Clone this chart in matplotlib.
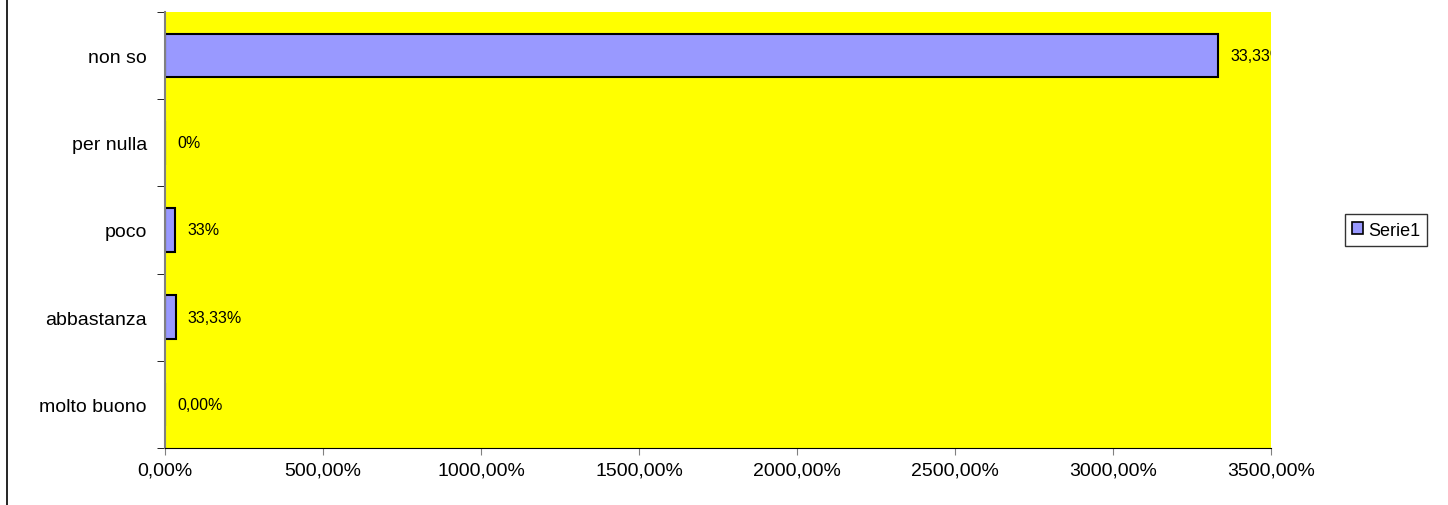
import matplotlib
matplotlib.use("Agg")
import matplotlib.pyplot as plt
from matplotlib.lines import Line2D
from matplotlib.patches import Patch

categories = ["molto buono", "abbastanza", "poco", "per nulla", "non so"]
values = [0.0, 33.33, 33.0, 0.0, 3333.0]
value_labels = ["0,00%", "33,33%", "33%", "0%", "33,33%"]
xticks = [0, 500, 1000, 1500, 2000, 2500, 3000, 3500]

plt.rcParams['font.family'] = ['Liberation Sans', 'DejaVu Sans']

fig = plt.figure(figsize=(14.48, 5.06), dpi=100)
ax = fig.add_axes([165 / 1448, 1 - 449 / 506, (1271 - 165) / 1448, (449 - 13) / 506])
ax.set_facecolor("#ffff00")

ypos = list(range(len(categories)))
ax.barh(ypos, values, height=0.5, color="#9999ff", edgecolor="black", linewidth=1.5)

for y, v, lab in zip(ypos, values, value_labels):
    ax.text(v + 38, y, lab, va="center", ha="left", fontsize=11.5, clip_on=True)

ax.set_xlim(0, 3500)
ax.set_ylim(-0.5, len(categories) - 0.5)
ax.set_xticks(xticks)
ax.set_xticklabels([f"{t},00%" for t in xticks], fontsize=14)
ax.set_yticks(ypos)
ax.set_yticklabels(categories, fontsize=14)
ax.set_yticks([i - 0.5 for i in range(len(categories) + 1)], minor=True)
ax.tick_params(axis="y", which="major", length=0, pad=13)
ax.tick_params(axis="y", which="minor", length=6, color="black", direction="out")
ax.tick_params(axis="x", length=5, color="gray", direction="out", pad=5)

for s in ["top", "right"]:
    ax.spines[s].set_visible(False)
ax.spines["left"].set_color("gray")
ax.spines["left"].set_linewidth(1.5)
ax.spines["bottom"].set_color("black")

handle = Patch(facecolor="#9999ff", edgecolor="black", linewidth=1.2)
fig.legend([handle], ["Serie1"], loc="center", bbox_to_anchor=(1386 / 1448, 1 - 231 / 506),
           fontsize=13, frameon=True, fancybox=False, edgecolor="black",
           handlelength=0.6, handleheight=0.6, handletextpad=0.3, borderpad=0.4)

fig.add_artist(Line2D([6.5 / 1448, 6.5 / 1448], [0, 1], color="black", linewidth=1.2,
                      transform=fig.transFigure))

fig.savefig("out.png", dpi=100)
